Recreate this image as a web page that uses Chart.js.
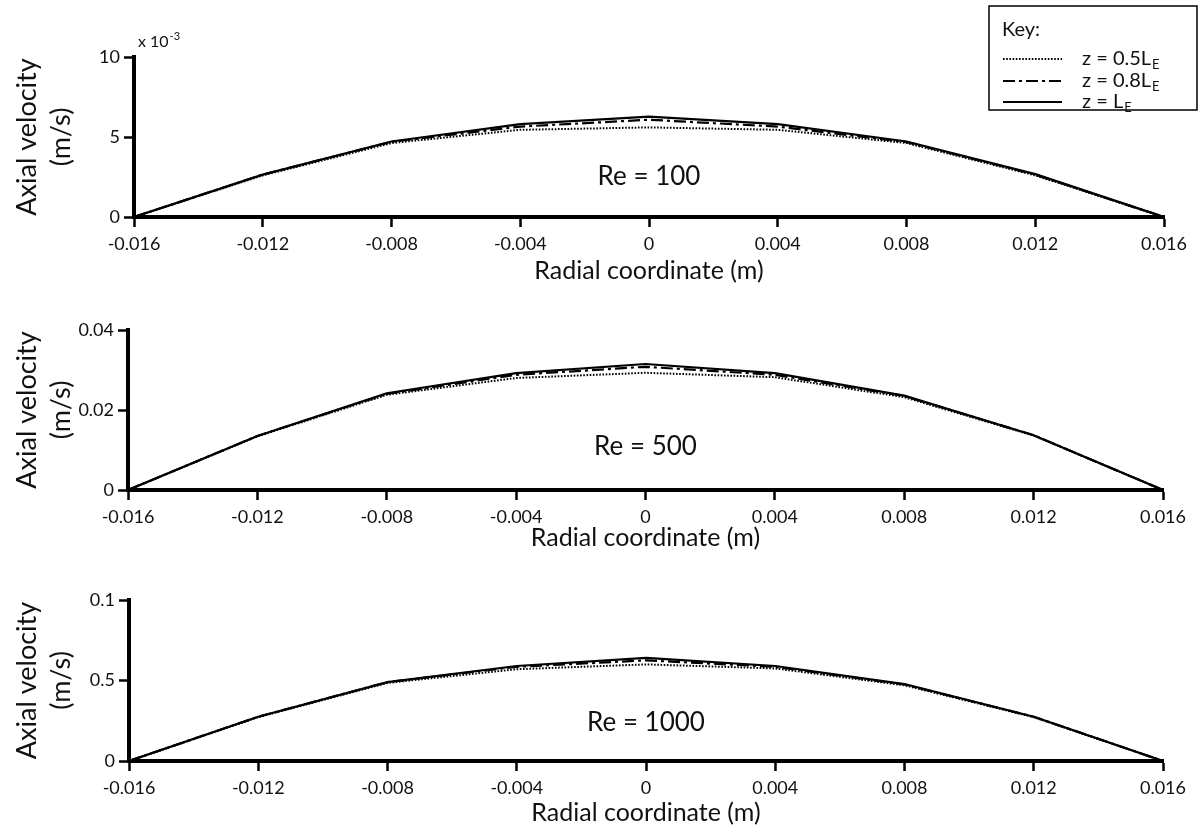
<!DOCTYPE html>
<html>
<head>
<meta charset="utf-8">
<script src="https://cdn.jsdelivr.net/npm/chart.js@4/dist/chart.umd.min.js"></script>
<style>
  html, body { margin: 0; padding: 0; background: #fff; }
  #wrap { position: relative; width: 1204px; height: 833px; }
  #wrap canvas { position: absolute; left: 0; top: 0; }
</style>
</head>
<body>
<div id="wrap">
  <canvas id="panel1" width="1204" height="833"></canvas>
  <canvas id="panel2" width="1204" height="833"></canvas>
  <canvas id="panel3" width="1204" height="833"></canvas>
</div>
<script>
// ---- data ----
const radialPos = [-0.016, -0.012, -0.008, -0.004, 0, 0.004, 0.008, 0.012, 0.016];

const xTicks = [-0.016, -0.012, -0.008, -0.004, 0, 0.004, 0.008, 0.012, 0.016];
const xTickLabels = ['-0.016', '-0.012', '-0.008', '-0.004', '0', '0.004', '0.008', '0.012', '0.016'];

const seriesNames = ['z = 0.5L', 'z = 0.8L', 'z = L'];
const seriesSub = 'E';

// Re = 100, values in x 10^-3 m/s
const re100Half = [0, 2.6, 4.62, 5.45, 5.6, 5.45, 4.62, 2.6, 0];
const re100Eight = [0, 2.65, 4.7, 5.65, 6.08, 5.65, 4.68, 2.65, 0];
const re100Full = [0, 2.65, 4.72, 5.8, 6.27, 5.8, 4.72, 2.68, 0];
const re100YTicks = [0, 5, 10];
const re100YLabels = ['0', '5', '10'];

// Re = 500, m/s
const re500Half = [0, 0.0134, 0.0238, 0.028, 0.0293, 0.0282, 0.0232, 0.0136, 0];
const re500Eight = [0, 0.0135, 0.024, 0.0288, 0.0308, 0.0288, 0.0235, 0.0137, 0];
const re500Full = [0, 0.0135, 0.0242, 0.0292, 0.0315, 0.0292, 0.0236, 0.0137, 0];
const re500YTicks = [0, 0.02, 0.04];
const re500YLabels = ['0', '0.02', '0.04'];

// Re = 1000, m/s (middle tick printed as "0.5" on the original)
const re1000Half = [0, 0.0272, 0.0485, 0.057, 0.060, 0.0575, 0.047, 0.0272, 0];
const re1000Eight = [0, 0.0275, 0.049, 0.0585, 0.0625, 0.0585, 0.0475, 0.0275, 0];
const re1000Full = [0, 0.0275, 0.049, 0.059, 0.064, 0.059, 0.0478, 0.0275, 0];
const re1000YTicks = [0, 0.05, 0.1];
const re1000YLabels = ['0', '0.5', '0.1'];

// ---- styles ----
const FONT = 'Lato, "Open Sans", sans-serif';
const INK = '#111';
const DOTTED = [1.6, 1.6];
const DASHDOT = [12, 4, 3, 4];

function toPoints(ys) {
  return ys.map((y, i) => ({ x: radialPos[i], y: y }));
}

const reLabelPlugin = {
  id: 'reLabel',
  afterDraw(chart, args, opts) {
    if (!opts.text) return;
    const ctx = chart.ctx;
    const area = chart.chartArea;
    ctx.save();
    ctx.font = '26px ' + FONT;
    ctx.fillStyle = INK;
    ctx.textAlign = 'center';
    ctx.textBaseline = 'middle';
    ctx.fillText(opts.text, chart.scales.x.getPixelForValue(0), area.top + opts.yFrac * (area.bottom - area.top));
    ctx.restore();
  }
};

const keyPlugin = {
  id: 'keyBox',
  afterDraw(chart, args, opts) {
    if (!opts.show) return;
    const ctx = chart.ctx;
    ctx.save();
    ctx.strokeStyle = '#000';
    ctx.lineWidth = 1.5;
    ctx.strokeRect(989, 6, 208, 104);
    ctx.fillStyle = INK;
    ctx.textBaseline = 'middle';
    ctx.font = '20px ' + FONT;
    ctx.fillText('Key:', 1002, 30);
    const rows = [59, 81, 102];
    chart.data.datasets.forEach((ds, i) => {
      const y = rows[i];
      ctx.strokeStyle = '#000';
      ctx.lineWidth = ds.borderWidth;
      ctx.setLineDash(ds.borderDash || []);
      ctx.beginPath();
      ctx.moveTo(1003, y);
      ctx.lineTo(1062, y);
      ctx.stroke();
      ctx.setLineDash([]);
      ctx.font = '20px ' + FONT;
      ctx.fillText(seriesNames[i], 1082, y);
      const w = ctx.measureText(seriesNames[i]).width;
      ctx.font = '13px ' + FONT;
      ctx.fillText(seriesSub, 1082 + w + 1, y + 6);
    });
    ctx.restore();
  }
};

const exponentPlugin = {
  id: 'exponent',
  afterDraw(chart, args, opts) {
    if (!opts.show) return;
    const ctx = chart.ctx;
    ctx.save();
    ctx.fillStyle = INK;
    ctx.textBaseline = 'middle';
    ctx.font = '16px ' + FONT;
    ctx.fillText('x 10', 138, 42);
    const w = ctx.measureText('x 10').width;
    ctx.font = '11px ' + FONT;
    ctx.fillText('-3', 138 + w + 1, 36);
    ctx.restore();
  }
};

function makePanel(canvasId, p) {
  return new Chart(document.getElementById(canvasId), {
    type: 'line',
    data: {
      datasets: [
        { label: 'z = 0.5LE', data: toPoints(p.half), borderDash: DOTTED, borderWidth: 2 },
        { label: 'z = 0.8LE', data: toPoints(p.eight), borderDash: DASHDOT, borderWidth: 2.2 },
        { label: 'z = LE', data: toPoints(p.full), borderDash: [], borderWidth: 2.2 }
      ].map(d => Object.assign(d, { borderColor: '#000', pointRadius: 0, tension: 0, fill: false }))
    },
    options: {
      responsive: false,
      animation: false,
      events: [],
      layout: { padding: { top: p.top, bottom: 833 - p.bottom - p.xAxisH, left: 0, right: 1204 - p.right } },
      plugins: {
        legend: { display: false },
        tooltip: { enabled: false },
        reLabel: { text: p.reText, yFrac: p.reFrac },
        keyBox: { show: !!p.key },
        exponent: { show: !!p.exponent }
      },
      scales: {
        x: {
          type: 'linear',
          min: -0.016,
          max: 0.016,
          afterBuildTicks: s => { s.ticks = xTicks.map(v => ({ value: v })); },
          afterFit: s => { s.height = p.xAxisH; },
          ticks: {
            autoSkip: false, maxRotation: 0, padding: 6, color: INK,
            font: { family: FONT, size: 18 },
            callback: (v, i) => xTickLabels[i]
          },
          grid: { drawOnChartArea: false, tickLength: 10, tickWidth: 2.5, tickColor: '#000' },
          border: { display: true, width: 4, color: '#000' },
          title: {
            display: true, text: 'Radial coordinate (m)', color: INK,
            font: { family: FONT, size: 25, lineHeight: 1.2 }, padding: { top: 0, bottom: 0 }
          }
        },
        y: {
          type: 'linear',
          min: p.yTicks[0],
          max: p.yTicks[p.yTicks.length - 1],
          afterBuildTicks: s => { s.ticks = p.yTicks.map(v => ({ value: v })); },
          afterFit: s => { s.width = p.left; },
          ticks: {
            autoSkip: false, padding: 4, color: INK,
            font: { family: FONT, size: 18 },
            callback: (v, i) => p.yLabels[i]
          },
          grid: { drawOnChartArea: false, tickLength: 10, tickWidth: 2.5, tickColor: '#000' },
          border: { display: true, width: 4, color: '#000' },
          title: {
            display: true, text: ['Axial velocity', '(m/s)'], color: INK,
            font: { family: FONT, size: 27, lineHeight: 1.26 }, padding: { top: 10, bottom: 0 }
          }
        }
      }
    },
    plugins: [reLabelPlugin, keyPlugin, exponentPlugin]
  });
}

makePanel('panel1', {
  half: re100Half, eight: re100Eight, full: re100Full,
  yTicks: re100YTicks, yLabels: re100YLabels,
  left: 134, right: 1164, top: 57, bottom: 217, xAxisH: 69,
  reText: 'Re = 100', reFrac: 0.75, key: true, exponent: true
});

makePanel('panel2', {
  half: re500Half, eight: re500Eight, full: re500Full,
  yTicks: re500YTicks, yLabels: re500YLabels,
  left: 128, right: 1163, top: 330, bottom: 490, xAxisH: 63,
  reText: 'Re = 500', reFrac: 0.73
});

makePanel('panel3', {
  half: re1000Half, eight: re1000Eight, full: re1000Full,
  yTicks: re1000YTicks, yLabels: re1000YLabels,
  left: 129, right: 1163, top: 600, bottom: 761, xAxisH: 67,
  reText: 'Re = 1000', reFrac: 0.76
});
</script>
</body>
</html>
